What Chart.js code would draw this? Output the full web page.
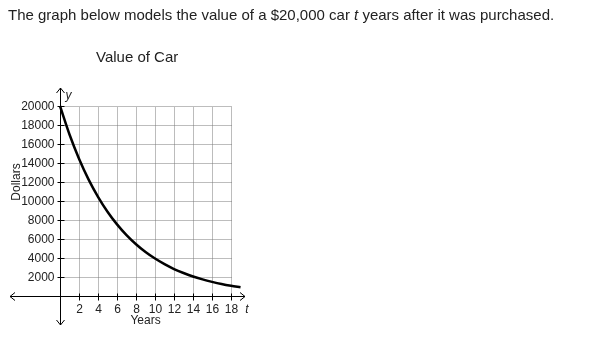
<!DOCTYPE html>
<html>
<head>
<meta charset="utf-8">
<title>Value of Car</title>
<script src="https://cdn.jsdelivr.net/npm/chart.js@4/dist/chart.umd.min.js"></script>
<style>
html, body { margin: 0; padding: 0; background: #fff; }
body { width: 615px; height: 337px; position: relative; overflow: hidden; font-family: "Liberation Sans", Arial, sans-serif; color: #222; }
#question { position: absolute; left: 8px; top: 6px; margin: 0; font-size: 15px; white-space: nowrap; }
#chartTitle { position: absolute; left: 96px; top: 48px; font-size: 15px; white-space: nowrap; }
#carChart { position: absolute; left: 0; top: 0; }
</style>
</head>
<body>
<canvas id="carChart" width="615" height="337"></canvas>
<p id="question">The graph below models the value of a $20,000 car <i>t</i> years after it was purchased.</p>
<div id="chartTitle">Value of Car</div>
<script>
// years after purchase and the value
let years = [0, 1, 2, 3, 4, 5, 6, 7, 8, 9, 10, 11, 12, 13, 14, 15, 16, 17, 18, 19];
let dollars = [20000, 17000, 14450, 12280, 10440, 8870, 7540, 6410, 5450, 4630,
               3940, 3350, 2840, 2420, 2050, 1750, 1490, 1260, 1070, 910];

let xTicks = [2, 4, 6, 8, 10, 12, 14, 16, 18];
let yTicks = [2000, 4000, 6000, 8000, 10000, 12000, 14000, 16000, 18000, 20000];

let points = [];
for (let i = 0; i < years.length; i++) {
    points.push({ x: years[i], y: dollars[i] });
}

const axesPlugin = {
    id: "carAxes",
    beforeDatasetsDraw: function(chart) {
        let ctx = chart.ctx;
        let xs = chart.scales.x;
        let ys = chart.scales.y;

        let x0 = Math.round(xs.getPixelForValue(0)) + 0.5;
        let y0 = Math.round(ys.getPixelForValue(0)) + 0.5;
        let xEnd = Math.round(xs.getPixelForValue(xTicks[xTicks.length - 1])) + 0.5;
        let yTop = Math.round(ys.getPixelForValue(yTicks[yTicks.length - 1])) + 0.5;

        ctx.save();

        // dotted grid
        ctx.strokeStyle = "#7a7a7a";
        ctx.lineWidth = 1;
        ctx.setLineDash([1, 1]);
        for (let i = 0; i < xTicks.length; i++) {
            let px = Math.round(xs.getPixelForValue(xTicks[i])) + 0.5;
            ctx.beginPath();
            ctx.moveTo(px, y0);
            ctx.lineTo(px, yTop);
            ctx.stroke();
        }
        for (let i = 0; i < yTicks.length; i++) {
            let py = Math.round(ys.getPixelForValue(yTicks[i])) + 0.5;
            ctx.beginPath();
            ctx.moveTo(x0, py);
            ctx.lineTo(xEnd, py);
            ctx.stroke();
        }
        ctx.setLineDash([]);

        // axes
        ctx.strokeStyle = "#000";
        ctx.beginPath();
        ctx.moveTo(xs.left, y0);
        ctx.lineTo(xs.right, y0);
        ctx.moveTo(x0, ys.top);
        ctx.lineTo(x0, ys.bottom);
        ctx.stroke();

        // arrow heads
        ctx.beginPath();
        ctx.moveTo(xs.left + 5, y0 - 4);
        ctx.lineTo(xs.left, y0);
        ctx.lineTo(xs.left + 5, y0 + 4);
        ctx.moveTo(xs.right - 5, y0 - 4);
        ctx.lineTo(xs.right, y0);
        ctx.lineTo(xs.right - 5, y0 + 4);
        ctx.moveTo(x0 - 4, ys.top + 5);
        ctx.lineTo(x0, ys.top);
        ctx.lineTo(x0 + 4, ys.top + 5);
        ctx.moveTo(x0 - 4, ys.bottom - 5);
        ctx.lineTo(x0, ys.bottom);
        ctx.lineTo(x0 + 4, ys.bottom - 5);
        ctx.stroke();

        // tick marks and labels
        ctx.fillStyle = "#222";
        ctx.font = "12px 'Liberation Sans', Arial, sans-serif";
        ctx.textBaseline = "middle";
        ctx.textAlign = "right";
        for (let i = 0; i < yTicks.length; i++) {
            let py = Math.round(ys.getPixelForValue(yTicks[i])) + 0.5;
            ctx.beginPath();
            ctx.moveTo(x0 - 3, py);
            ctx.lineTo(x0 + 4, py);
            ctx.stroke();
            ctx.fillText(String(yTicks[i]), x0 - 6, py);
        }
        ctx.textAlign = "center";
        for (let i = 0; i < xTicks.length; i++) {
            let px = Math.round(xs.getPixelForValue(xTicks[i])) + 0.5;
            ctx.beginPath();
            ctx.moveTo(px, y0 - 3);
            ctx.lineTo(px, y0 + 4);
            ctx.stroke();
            ctx.fillText(String(xTicks[i]), px, y0 + 13);
        }

        // axis names
        ctx.font = "italic 12px 'Liberation Sans', Arial, sans-serif";
        ctx.fillText("t", xs.right + 2, y0 + 13);
        ctx.fillText("y", x0 + 8, ys.top + 8);
        ctx.font = "12px 'Liberation Sans', Arial, sans-serif";
        ctx.fillText("Years", xs.getPixelForValue(9), y0 + 24);
        ctx.translate(17, ys.getPixelForValue(12000));
        ctx.rotate(-Math.PI / 2);
        ctx.fillText("Dollars", 0, 0);

        ctx.restore();
    }
};

new Chart(document.getElementById("carChart"), {
    type: "line",
    data: {
        datasets: [{
            label: "Value of Car",
            data: points,
            borderColor: "#000",
            borderWidth: 2.5,
            pointRadius: 0,
            cubicInterpolationMode: "monotone",
            fill: false
        }]
    },
    options: {
        responsive: false,
        animation: false,
        devicePixelRatio: 1,
        layout: {
            padding: { left: 10, right: 370, top: 88, bottom: 12 }
        },
        scales: {
            x: { type: "linear", min: -5.263, max: 19.47, display: false },
            y: { type: "linear", min: -3053, max: 21895, display: false }
        },
        plugins: {
            legend: { display: false },
            tooltip: { enabled: false }
        }
    },
    plugins: [axesPlugin]
});
</script>
</body>
</html>
